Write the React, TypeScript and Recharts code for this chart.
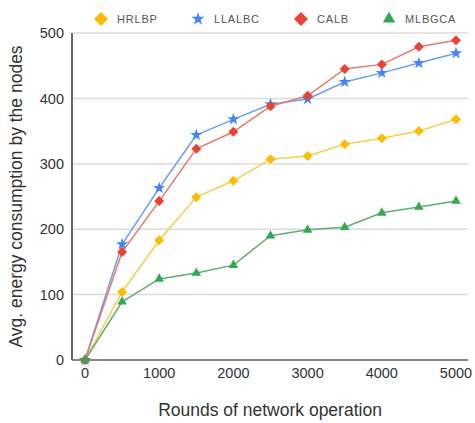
import React from 'react';
import {
  LineChart,
  Line,
  XAxis,
  YAxis,
  CartesianGrid,
  Label,
  Symbols
} from 'recharts';

const rounds = [0, 500, 1000, 1500, 2000, 2500, 3000, 3500, 4000, 4500, 5000];
const hrlbp = [0, 104, 183, 249, 274, 307, 312, 330, 339, 350, 368];
const llalbc = [0, 177, 263, 344, 368, 391, 399, 425, 439, 454, 469];
const calb = [0, 165, 243, 323, 349, 388, 404, 445, 452, 479, 489];
const mlbgca = [0, 89, 124, 133, 145, 190, 199, 203, 225, 234, 243];
const xTicks = [0, 1000, 2000, 3000, 4000, 5000];
const yTicks = [0, 100, 200, 300, 400, 500];

const data = rounds.map((r, i) => ({
  round: r,
  HRLBP: hrlbp[i],
  LLALBC: llalbc[i],
  CALB: calb[i],
  MLBGCA: mlbgca[i],
}));

const series = [
  { key: 'HRLBP', color: '#fbbc04', line: '#f5cf4f', shape: 'diamond', legendX: 93 },
  { key: 'LLALBC', color: '#4285f4', line: '#6d9ef0', shape: 'star', legendX: 190 },
  { key: 'CALB', color: '#ea4335', line: '#e57a70', shape: 'diamond', legendX: 293 },
  { key: 'MLBGCA', color: '#34a853', line: '#5fae74', shape: 'triangle', legendX: 381 },
];

const font = '"Liberation Sans", Arial, sans-serif';

// marker shape, r = half width
const Marker = ({ cx, cy, shape, color, r }: any) => {
  if (shape === 'diamond') {
    return <polygon points={`${cx},${cy - r} ${cx + r},${cy} ${cx},${cy + r} ${cx - r},${cy}`} fill={color} />;
  }
  if (shape === 'star') {
    return <Symbols cx={cx} cy={cy} type="star" size={r * r * 1.3} fill={color} />;
  }
  return <Symbols cx={cx} cy={cy} type="triangle" size={r * r * 1.6} fill={color} />;
};

export default function App() {
  return (
    <div style={{ position: 'absolute', left: 0, top: 0, width: 475, height: 423, background: '#fff' }}>
      {series.map(s => (
        <div key={s.key} style={{
          position: 'absolute', left: s.legendX, top: 11, display: 'flex', alignItems: 'center',
          fontFamily: font, fontSize: 11, color: '#555', letterSpacing: 0.8, zIndex: 2
        }}>
          <svg width={16} height={16} style={{ marginRight: 8 }}>
            <Marker cx={8} cy={8} shape={s.shape} color={s.color} r={s.shape === 'diamond' ? 7 : 6.5} />
          </svg>
          <span>{s.key}</span>
        </div>
      ))}
      <LineChart width={475} height={423} data={data} margin={{ top: 33, right: 7, bottom: 13, left: 0 }}>
        <CartesianGrid horizontal vertical={false} stroke="#dcdcdc" strokeWidth={1.5} />
        <XAxis
          dataKey="round"
          type="number"
          domain={[0, 5000]}
          ticks={xTicks}
          padding={{ left: 13, right: 12 }}
          height={50}
          tickLine={false}
          axisLine={{ stroke: '#888', strokeWidth: 2 }}
          tick={{ fill: '#333', fontSize: 14.5, fontFamily: font }}
        >
          <Label value="Rounds of network operation" position="insideBottom" offset={-6}
            style={{ fill: '#333', fontSize: 17.5, fontFamily: font }} />
        </XAxis>
        <YAxis
          domain={[0, 500]}
          ticks={yTicks}
          width={72}
          tickLine={false}
          axisLine={{ stroke: '#666', strokeWidth: 2 }}
          tick={{ fill: '#333', fontSize: 14.5, fontFamily: font }}
        >
          <Label value="Avg. energy consumption by the nodes" angle={-90} position="insideLeft" offset={16}
            style={{ fill: '#333', fontSize: 17.5, fontFamily: font, textAnchor: 'middle' }} />
        </YAxis>
        {series.map(s => (
          <Line
            key={s.key}
            dataKey={s.key}
            stroke={s.line}
            strokeWidth={1.5}
            isAnimationActive={false}
            dot={(p: any) => (
              <Marker key={`${s.key}-${p.index}`} cx={p.cx} cy={p.cy} shape={s.shape} color={s.color}
                r={s.shape === 'diamond' ? 5 : s.shape === 'star' ? 6 : 5} />
            )}
          />
        ))}
      </LineChart>
    </div>
  );
}
